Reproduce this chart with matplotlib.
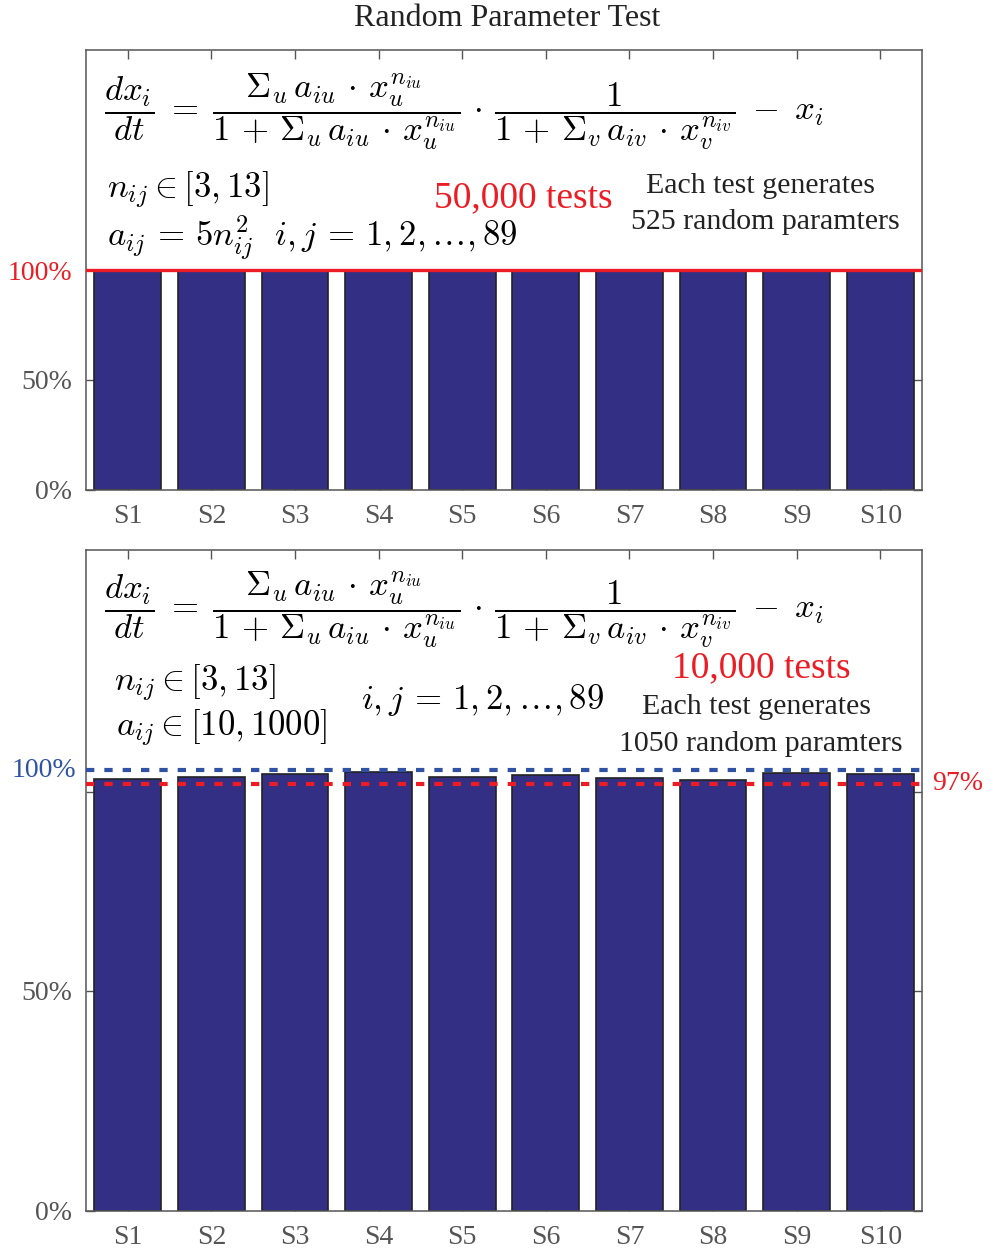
import matplotlib
matplotlib.use('Agg')
import matplotlib.pyplot as plt
from matplotlib.transforms import blended_transform_factory

plt.rcParams['font.family'] = ['Liberation Serif', 'DejaVu Serif']
plt.rcParams['mathtext.fontset'] = 'cm'

# ── data ────────────────────────────────────────────────
categories = ['S1', 'S2', 'S3', 'S4', 'S5', 'S6', 'S7', 'S8', 'S9', 'S10']
top_rates = [1.00, 1.00, 1.00, 1.00, 1.00, 1.00, 1.00, 1.00, 1.00, 1.00]
bottom_rates = [0.980, 0.985, 0.991, 0.996, 0.986, 0.989, 0.983, 0.978, 0.995, 0.991]
ref_full = 1.00
ref_bottom = 0.97

BAR = '#332f85'
RED = '#ec1c24'
BLUE = '#2f52a4'
GREY = '#555555'
INK = '#222222'

W, H = 992, 1253
fig = plt.figure(figsize=(W / 100, H / 100), dpi=100)


def px(x, y):
    return x / W, 1 - y / H


def axes_px(left, top, right, bottom):
    return [left / W, 1 - bottom / H, (right - left) / W, (bottom - top) / H]


def style(ax):
    ax.tick_params(direction='in', top=True, right=True, length=6.5,
                   width=1, colors=GREY, labelsize=20, pad=10)
    for s in ax.spines.values():
        s.set_color(GREY)
        s.set_linewidth(1.1)


MS = 25  # math font size
term = r'a_{i%s} \,\cdot\, x_%s^{n_{i%s}}'
eq = (r'$\dfrac{dx_i}{dt} \;=\; \dfrac{\Sigma_u\, ' + term % ('u', 'u', 'u') + '}'
      r'{1 \,+\, \Sigma_u\, ' + term % ('u', 'u', 'u') + r'} \,\cdot\, '
      r'\dfrac{1}{1 \,+\, \Sigma_v\, ' + term % ('v', 'v', 'v') + r'} \;-\; x_i$')

x = list(range(1, len(categories) + 1))

# ── top panel ───────────────────────────────────────────
ax1 = fig.add_axes(axes_px(86, 50, 922, 490))
ax1.bar(x, top_rates, width=0.8, color=BAR, edgecolor=INK, linewidth=1.2, zorder=2)
ax1.axhline(ref_full, color=RED, lw=2.4, zorder=4)
ax1.set_xlim(0.5, 10.5)
ax1.set_ylim(0, 2.0)
ax1.set_xticks(x)
ax1.set_xticklabels(categories)
ax1.set_yticks([0, 0.5, 1.0])
ax1.set_yticklabels(['0%', '50%', '100%'])
style(ax1)
ax1.get_yticklabels()[2].set_color(RED)

fig.text(*px(104, 112), eq, fontsize=MS, ha='left', va='center')
fig.text(*px(107, 190), r'$n_{ij} \in [3, 13]$', fontsize=MS, ha='left', va='center')
fig.text(*px(107, 238), r'$a_{ij} \,=\, 5n_{ij}^2\ \ i, j \,=\, 1, 2, \ldots, 89$',
         fontsize=MS, ha='left', va='center')
fig.text(*px(523, 198), '50,000 tests', color=RED, fontsize=27, ha='center', va='center')
fig.text(*px(761, 186), 'Each test generates', color=INK, fontsize=21.5,
         ha='center', va='center')
fig.text(*px(765, 222), '525 random paramters', color=INK, fontsize=21.5,
         ha='center', va='center')

# ── bottom panel ────────────────────────────────────────
ax2 = fig.add_axes(axes_px(86, 550, 922, 1211))
ax2.bar(x, bottom_rates, width=0.8, color=BAR, edgecolor=INK, linewidth=1.2, zorder=2)
ax2.axhline(ref_full, color=BLUE, lw=3, dashes=(2.0, 2.4), zorder=4)
ax2.axhline(ref_bottom, color=RED, lw=3, dashes=(2.0, 2.4), zorder=4)
ax2.set_xlim(0.5, 10.5)
ax2.set_ylim(0, 1.5)
ax2.set_xticks(x)
ax2.set_xticklabels(categories)
ax2.set_yticks([0, 0.5, 0.95])
ax2.set_yticklabels(['0%', '50%', ''])
style(ax2)
tr = blended_transform_factory(ax2.transAxes, ax2.transData)
ax2.text(-0.012, ref_full, '100%', transform=tr, color=BLUE, fontsize=20,
         ha='right', va='center')
ax2.text(1.012, ref_bottom, '97%', transform=tr, color=RED, fontsize=20,
         ha='left', va='center')

fig.text(*px(104, 610), eq, fontsize=MS, ha='left', va='center')
fig.text(*px(114, 683), r'$n_{ij} \in [3, 13]$', fontsize=MS, ha='left', va='center')
fig.text(*px(116, 728), r'$a_{ij} \in [10, 1000]$', fontsize=MS, ha='left', va='center')
fig.text(*px(361, 700), r'$i, j \,=\, 1, 2, \ldots, 89$', fontsize=MS,
         ha='left', va='center')
fig.text(*px(761, 668), '10,000 tests', color=RED, fontsize=27, ha='center', va='center')
fig.text(*px(757, 707), 'Each test generates', color=INK, fontsize=21.5,
         ha='center', va='center')
fig.text(*px(761, 744), '1050 random paramters', color=INK, fontsize=21.5,
         ha='center', va='center')

fig.text(*px(507, 18), 'Random Parameter Test', color=INK, fontsize=23,
         ha='center', va='center')

fig.savefig('out.png', dpi=100)
